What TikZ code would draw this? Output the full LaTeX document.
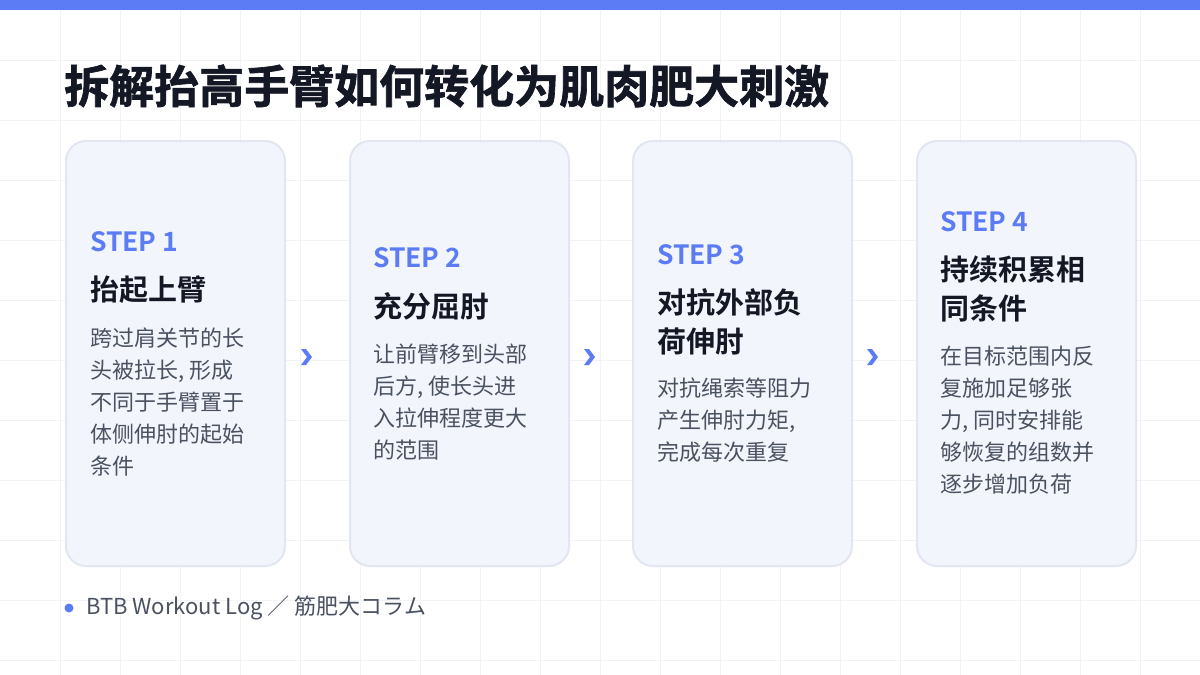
\documentclass[tikz,border=0pt]{standalone}
\usepackage{fontspec}
\setmainfont{Noto Sans CJK SC}
\newfontfamily\cjkbold[FakeBold=1.5]{Noto Sans CJK SC Bold}
\newfontfamily\cjksemi{Noto Sans CJK SC Bold}
\usetikzlibrary{positioning}
\definecolor{accent}{HTML}{5B7CF5}
\definecolor{ink}{HTML}{141824}
\definecolor{body}{HTML}{4A5160}
\definecolor{cardfill}{HTML}{F3F5FC}
\definecolor{cardline}{HTML}{E1E6F0}
\definecolor{gridline}{HTML}{F2F3F6}
\tikzset{
  card/.style={rectangle, draw=cardline, line width=2pt, fill=cardfill, rounded corners=20pt, minimum width=219pt, minimum height=425pt, anchor=north west},
  steplabel/.style={anchor=west, inner sep=0pt, text=accent, font=\cjksemi\fontsize{26.5}{30}\selectfont},
  steptitle/.style={anchor=west, inner sep=0pt, align=left, text=ink, font=\cjksemi\fontsize{29}{39}\selectfont},
  steptext/.style={anchor=west, inner sep=0pt, align=left, text=body, font=\fontsize{22}{32}\selectfont},
  chevron/.style={fill=accent}
}
\begin{document}
\begin{tikzpicture}[x=1pt, y=-1pt]
    \useasboundingbox (0,0) rectangle (1200,675);
    \fill[white] (0,0) rectangle (1200,675);
    % background grid
    \foreach \gx in {60,120,...,1140} \draw[gridline, line width=0.8pt] (\gx,10) -- (\gx,675);
    \foreach \gy in {60,120,...,660} \draw[gridline, line width=0.8pt] (0,\gy) -- (1200,\gy);
    \fill[accent] (0,0) rectangle (1200,10);

    \node[anchor=west, inner sep=0pt, text=ink, font=\cjkbold\fontsize{45}{50}\selectfont] (title) at (64,86) {拆解抬高手臂如何转化为肌肉肥大刺激};

    % cards
    \node[card] (card1) at (65,140) {};
    \node[card] (card2) at (349,140) {};
    \node[card] (card3) at (632,140) {};
    \node[card] (card4) at (916,140) {};

    \node[steplabel] (step1) at (90,242) {STEP 1};
    \node[steptitle] (title1) at (90,290) {抬起上臂};
    \node[steptext] (text1) at (90,402) {跨过肩关节的长\\头被拉长, 形成\\不同于手臂置于\\体侧伸肘的起始\\条件};

    \node[steplabel] (step2) at (373,258) {STEP 2};
    \node[steptitle] (title2) at (373,306) {充分屈肘};
    \node[steptext] (text2) at (373,402) {让前臂移到头部\\后方, 使长头进\\入拉伸程度更大\\的范围};

    \node[steplabel] (step3) at (657,255) {STEP 3};
    \node[steptitle] (title3) at (657,322) {对抗外部负\\荷伸肘};
    \node[steptext] (text3) at (657,420) {对抗绳索等阻力\\产生伸肘力矩,\\完成每次重复};

    \node[steplabel] (step4) at (940,222) {STEP 4};
    \node[steptitle] (title4) at (940,289) {持续积累相\\同条件};
    \node[steptext] (text4) at (940,420) {在目标范围内反\\复施加足够张\\力, 同时安排能\\够恢复的组数并\\逐步增加负荷};

    % arrows between cards
    \coordinate (arrow12) at (307,357);
    \coordinate (arrow23) at (590,357);
    \coordinate (arrow34) at (873,357);
    \foreach \a in {arrow12, arrow23, arrow34}
      \fill[chevron] (\a) ++(-6,-8) -- ++(5,0) -- ++(6,8) -- ++(-6,8) -- ++(-5,0) -- ++(6,-8) -- cycle;

    % footer
    \fill[accent] (69,608) circle (4.5pt);
    \node[anchor=west, inner sep=0pt, text=body, font=\fontsize{22}{24}\selectfont] (footer) at (86,608) {BTB Workout Log ／ 筋肥大コラム};
\end{tikzpicture}
\end{document}
